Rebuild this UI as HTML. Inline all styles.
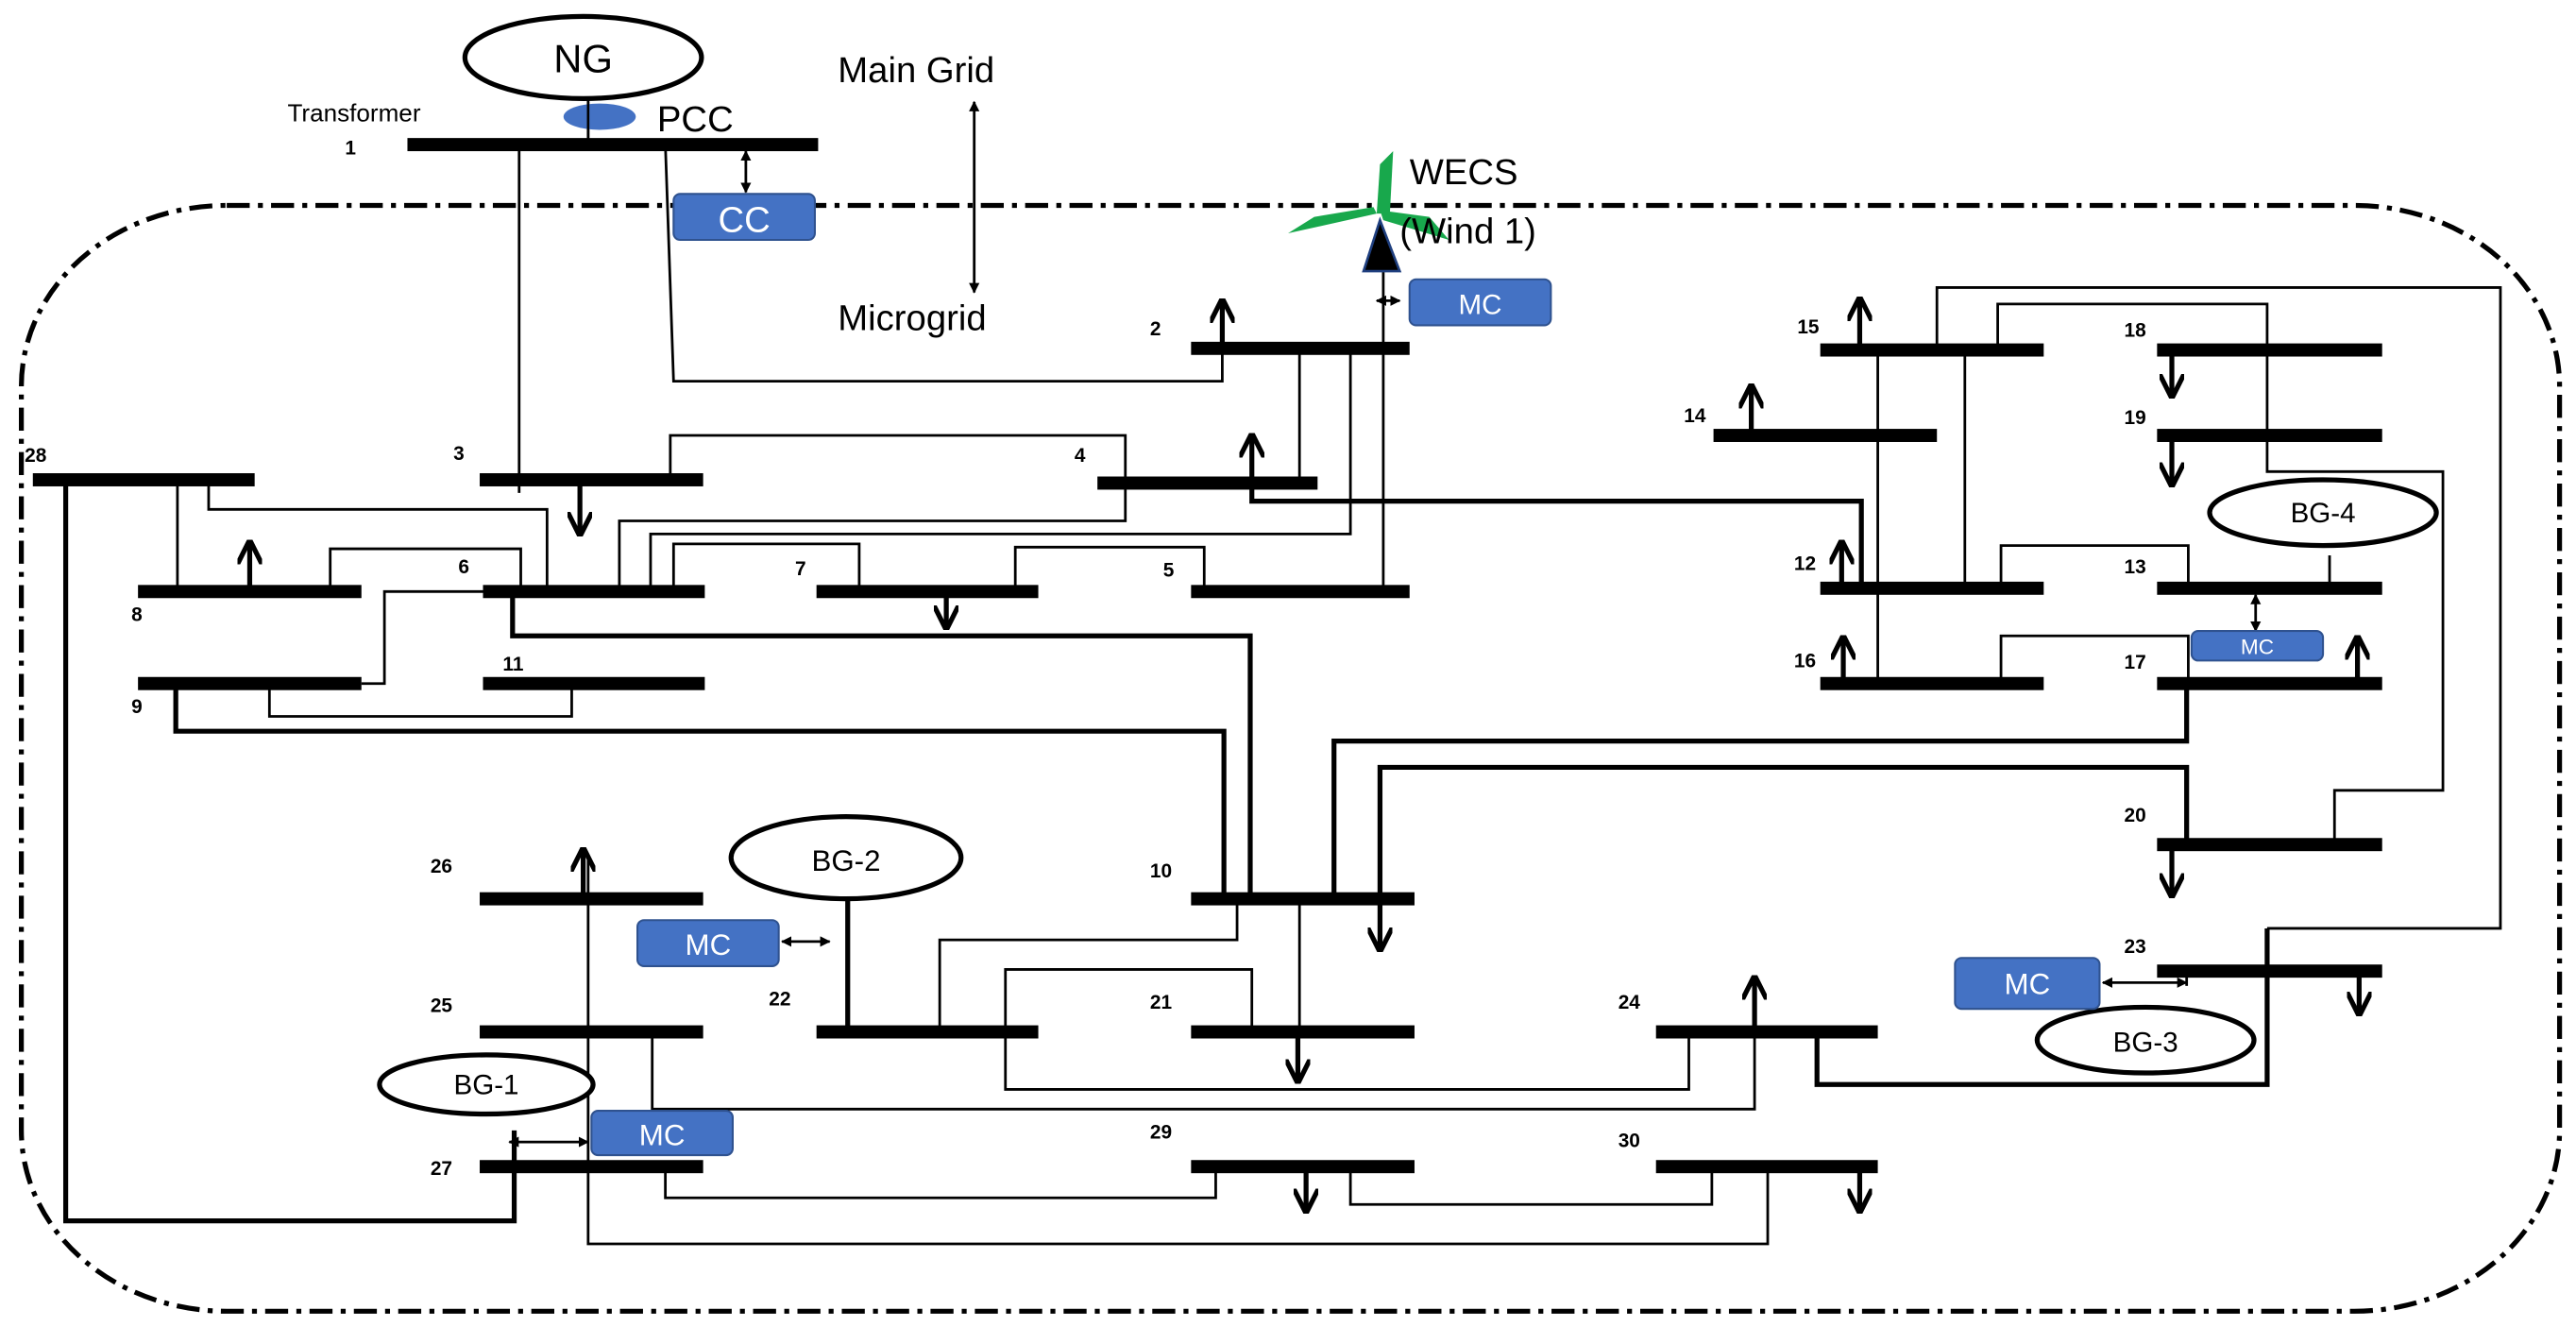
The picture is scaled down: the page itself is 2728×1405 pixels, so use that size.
<!DOCTYPE html>
<html><head><meta charset="utf-8"><style>
html,body{margin:0;padding:0;background:#fff;}
svg{display:block;}
text{font-family:"Liberation Sans",sans-serif;}
.n{font-size:12px;font-weight:bold;}
</style></head><body>
<svg width="2728" height="1405" viewBox="0 0 1568 807.6" preserveAspectRatio="none" xmlns="http://www.w3.org/2000/svg">
<defs>
<marker id="a" viewBox="0 0 10 10" refX="9" refY="5" markerWidth="5" markerHeight="5" orient="auto-start-reverse"><path d="M0,0 L10,5 L0,10" fill="none" stroke="#000" stroke-width="2"/></marker>
<marker id="s" viewBox="0 0 10 10" refX="9" refY="5" markerWidth="4" markerHeight="4" orient="auto-start-reverse"><path d="M0,0 L10,5 L0,10 z" fill="#000"/></marker>
</defs>
<!-- border -->
<rect x="13" y="125" width="1545" height="673" rx="125" ry="110" fill="none" stroke="#000" stroke-width="3" stroke-dasharray="14,5,3,5"/>

<g fill="none" stroke="#000" stroke-width="1.6">
<!-- thin lines -->
<path d="M316,88V300"/>
<path d="M405,88L410,232H744V212"/>
<path d="M408,292V265H685V317H377V360"/>
<path d="M127,292V310H333V360"/>
<path d="M108,292V360"/>
<path d="M791,212V294"/>
<path d="M822,212V325H396V360"/>
<path d="M842,165V360"/>
<path d="M410,360V331H523V360"/>
<path d="M618,360V333H733V360"/>
<path d="M201,360V334H317V360"/>
<path d="M220,416H234V360H294"/>
<path d="M164,416V436H348V416"/>
<path d="M1179,213V175H1522V565H1380"/>
<path d="M1216,213V185H1380V287H1487V481H1421V514"/>
<path d="M1143,213V416"/>
<path d="M1196,213V358"/>
<path d="M1218,358V332H1332V358"/>
<path d="M1418,338V358"/>
<path d="M1218,416V387H1332V416"/>
<path d="M791,547V628"/>
<path d="M753,547V572H572V628"/>
<path d="M762,628V590H612V663H1028V628"/>
<path d="M1068,628V675H397V628"/>
<path d="M740,710V729H405V710"/>
<path d="M822,710V733H1042V710"/>
<path d="M1076,710V757H358V520"/>
<path d="M1331,591V600"/>
<path d="M358,35V88"/>
</g>
<g fill="none" stroke="#000" stroke-width="3">
<path d="M762,294V305H1133V358"/>
<path d="M312,360V387H761V547"/>
<path d="M107,416V445H745V547"/>
<path d="M1331,416V451H812V547"/>
<path d="M1331,514V467H840V547"/>
<path d="M40,292V743H313V688"/>
<path d="M516,547V628"/>
<path d="M1106,628V660H1380V565"/>
</g>
<!-- buses -->
<g fill="#000">
<rect x="248" y="84" width="250" height="8"/>
<rect x="725" y="208" width="133" height="8"/>
<rect x="292" y="288" width="136" height="8"/>
<rect x="668" y="290" width="134" height="8"/>
<rect x="20" y="288" width="135" height="8"/>
<rect x="84" y="356" width="136" height="8"/>
<rect x="294" y="356" width="135" height="8"/>
<rect x="497" y="356" width="135" height="8"/>
<rect x="725" y="356" width="133" height="8"/>
<rect x="84" y="412" width="136" height="8"/>
<rect x="294" y="412" width="135" height="8"/>
<rect x="1108" y="209" width="136" height="8"/>
<rect x="1313" y="209" width="137" height="8"/>
<rect x="1043" y="261" width="136" height="8"/>
<rect x="1313" y="261" width="137" height="8"/>
<rect x="1108" y="354" width="136" height="8"/>
<rect x="1313" y="354" width="137" height="8"/>
<rect x="1108" y="412" width="136" height="8"/>
<rect x="1313" y="412" width="137" height="8"/>
<rect x="1313" y="510" width="137" height="8"/>
<rect x="725" y="543" width="136" height="8"/>
<rect x="725" y="624" width="136" height="8"/>
<rect x="1008" y="624" width="135" height="8"/>
<rect x="1313" y="587" width="137" height="8"/>
<rect x="725" y="706" width="136" height="8"/>
<rect x="1008" y="706" width="135" height="8"/>
<rect x="292" y="543" width="136" height="8"/>
<rect x="292" y="624" width="136" height="8"/>
<rect x="497" y="624" width="135" height="8"/>
<rect x="292" y="706" width="136" height="8"/>
</g>
<!-- load arrows -->
<g stroke="#000" stroke-width="3" fill="none" marker-end="url(#a)">
<path d="M744,212V183"/>
<path d="M353,292V325"/>
<path d="M762,294V265"/>
<path d="M152,360V330"/>
<path d="M576,360V382"/>
<path d="M1132,213V182"/>
<path d="M1322,213V241"/>
<path d="M1322,265V295"/>
<path d="M1066,265V235"/>
<path d="M1121,358V330"/>
<path d="M1122,416V388"/>
<path d="M1435,416V388"/>
<path d="M1322,514V545"/>
<path d="M840,547V578"/>
<path d="M790,628V658"/>
<path d="M1068,628V595"/>
<path d="M1436,591V617"/>
<path d="M795,710V737"/>
<path d="M1132,710V737"/>
<path d="M355,547V517"/>
</g>
<!-- small double arrows -->
<g stroke="#000" stroke-width="1.6" fill="none" marker-start="url(#s)" marker-end="url(#s)">
<path d="M593,62V178"/>
<path d="M454,92V117"/>
<path d="M1373,362V384"/>
<path d="M1280,598H1331"/>
<path d="M476,573H505"/>
<path d="M310,695H358"/>
<path d="M838,183H852"/>
</g>
<!-- generators -->
<g fill="#fff" stroke="#000" stroke-width="3">
<ellipse cx="355" cy="35" rx="72" ry="25"/>
<ellipse cx="515" cy="522" rx="70" ry="25"/>
<ellipse cx="296" cy="660" rx="65" ry="18"/>
<ellipse cx="1414" cy="312" rx="69" ry="20"/>
<ellipse cx="1306" cy="633" rx="66" ry="20"/>
</g>
<ellipse cx="365" cy="71" rx="22" ry="8" fill="#4472C4"/>
<line x1="358" y1="62" x2="358" y2="84" stroke="#000" stroke-width="1.5"/>
<!-- MC / CC boxes -->
<g fill="#4472C4" stroke="#2F528F" stroke-width="1.2">
<rect x="410" y="118" width="86" height="28" rx="4"/>
<rect x="858" y="170" width="86" height="28" rx="4"/>
<rect x="1334" y="384" width="80" height="18" rx="4"/>
<rect x="1190" y="583" width="88" height="31" rx="4"/>
<rect x="388" y="560" width="86" height="28" rx="4"/>
<rect x="360" y="676" width="86" height="27" rx="4"/>
</g>
<g fill="#fff" text-anchor="middle">
<text x="453" y="141" font-size="22">CC</text>
<text x="901" y="191" font-size="17">MC</text>
<text x="1374" y="398" font-size="13">MC</text>
<text x="1234" y="605" font-size="18">MC</text>
<text x="431" y="581" font-size="18">MC</text>
<text x="403" y="697" font-size="18">MC</text>
</g>
<!-- wind turbine -->
<polygon points="840,100 848,92 846,130 838,130" fill="#18A84C"/>
<polygon points="838,130 784,142 800,132 836,126" fill="#18A84C"/>
<polygon points="840,128 870,132 882,146 842,134" fill="#18A84C"/>
<polygon points="840,134 830,165 852,165" fill="#000" stroke="#1F3F7F" stroke-width="1.5"/>
<!-- texts -->
<g fill="#000">
<text x="355" y="44" font-size="24" text-anchor="middle">NG</text>
<text x="175" y="74" font-size="15">Transformer</text>
<text x="400" y="80" font-size="22">PCC</text>
<text x="510" y="50" font-size="22">Main Grid</text>
<text x="510" y="201" font-size="22">Microgrid</text>
<text x="858" y="112" font-size="22">WECS</text>
<text x="852" y="148" font-size="22">(Wind 1)</text>
<text x="515" y="530" font-size="18" text-anchor="middle">BG-2</text>
<text x="296" y="666" font-size="17" text-anchor="middle">BG-1</text>
<text x="1414" y="318" font-size="17" text-anchor="middle">BG-4</text>
<text x="1306" y="640" font-size="17" text-anchor="middle">BG-3</text>
</g>
<g class="n" fill="#000">
<text x="210" y="94">1</text>
<text x="700" y="204">2</text>
<text x="276" y="280">3</text>
<text x="654" y="281">4</text>
<text x="15" y="281">28</text>
<text x="279" y="349">6</text>
<text x="484" y="350">7</text>
<text x="708" y="351">5</text>
<text x="80" y="378">8</text>
<text x="80" y="434">9</text>
<text x="306" y="408">11</text>
<text x="1094" y="203">15</text>
<text x="1293" y="205">18</text>
<text x="1025" y="257">14</text>
<text x="1293" y="258">19</text>
<text x="1092" y="347">12</text>
<text x="1293" y="349">13</text>
<text x="1092" y="406">16</text>
<text x="1293" y="407">17</text>
<text x="1293" y="500">20</text>
<text x="700" y="534">10</text>
<text x="700" y="614">21</text>
<text x="985" y="614">24</text>
<text x="1293" y="580">23</text>
<text x="700" y="693">29</text>
<text x="985" y="698">30</text>
<text x="262" y="531">26</text>
<text x="262" y="616">25</text>
<text x="468" y="612">22</text>
<text x="262" y="715">27</text>
</g>
</svg>
</body></html>
